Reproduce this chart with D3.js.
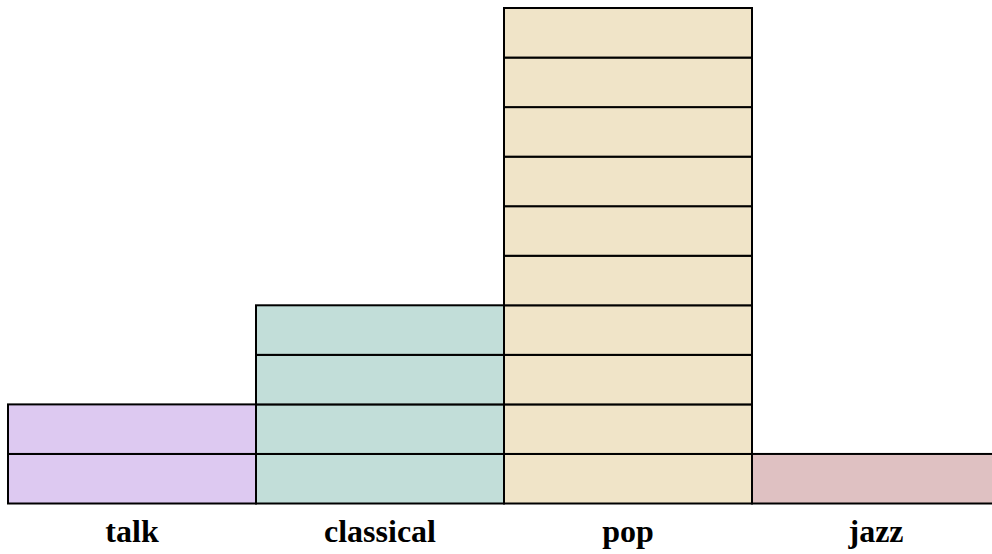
<!DOCTYPE html>
<html>
<head>
	<meta charset="utf-8">
	<title></title>
	<script src="https://cdn.jsdelivr.net/npm/d3@7/dist/d3.min.js"></script>
	<style type="text/css">
		html,body{
			margin: 0;
			padding: 0;
			overflow: hidden;
		}
		svg{
			display: block;
		}
		.label{
			font-family: "Liberation Serif", "Times New Roman", serif;
			font-weight: bold;
			font-size: 32px;
		}
	</style>
</head>
<body>
	<svg id="svg" width="992" height="554"></svg>
	<script type="text/javascript">
		// categories and their unit counts
		let categories = ['talk','classical','pop','jazz'];
		let counts = [2,4,10,1];
		let colors = ['#ddc9f1','#c2ded9','#f0e4c8','#dfc1c2'];

		let margin = 8;
		let width = 992;
		let chartBottom = 495.5;
		let maxUnits = 10;

		let svg = d3.select('#svg')
			.append('g')
			.attr('transform','translate('+margin+','+margin+')');

		let x = d3.scaleBand()
			.domain(categories)
			.range([0,width])
			.paddingInner(0)
			.paddingOuter(0);

		let y = d3.scaleLinear()
			.domain([0,maxUnits])
			.range([chartBottom,0]);

		let groups = svg.selectAll('g.bar')
			.data(categories.map((c,i)=>({name:c,count:counts[i],color:colors[i]})))
			.enter().append('g')
			.attr('class','bar');

		// one rect per unit, stacked
		groups.selectAll('rect')
			.data(d=>d3.range(d.count).map(k=>({name:d.name,color:d.color,k})))
			.enter().append('rect')
			.attr('x',d=>x(d.name))
			.attr('y',d=>y(d.k+1))
			.attr('width',x.bandwidth())
			.attr('height',d=>y(d.k)-y(d.k+1))
			.style('fill',d=>d.color)
			.style('stroke','#000')
			.style('stroke-width',2);

		svg.selectAll('text.label')
			.data(categories)
			.enter().append('text')
			.attr('class','label')
			.attr('x',d=>x(d)+x.bandwidth()/2)
			.attr('y',533.5)
			.attr('text-anchor','middle')
			.text(d=>d);
	</script>
</body>
</html>
